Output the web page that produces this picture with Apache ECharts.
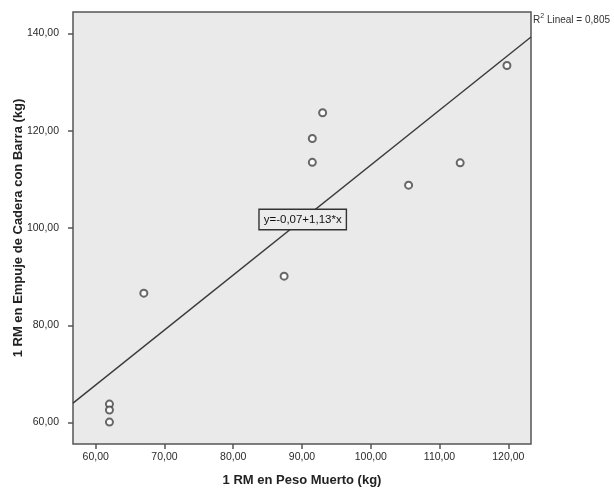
<!DOCTYPE html>
<html>
<head>
<meta charset="utf-8">
<script src="https://cdn.jsdelivr.net/npm/echarts@6/dist/echarts.min.js"></script>
<style>html,body{margin:0;padding:0;background:#fff}#c{width:614px;height:491px}</style>
</head>
<body>
<div id="c"></div>
<script>
// Data
var pesoMuerto = [62, 62, 62, 67, 87.4, 91.5, 91.5, 93, 105.5, 113, 119.8];
var empujeCadera = [63.8, 62.6, 60.1, 86.6, 90.1, 113.5, 118.4, 123.7, 108.8, 113.4, 133.4];
var xTicks = [60, 70, 80, 90, 100, 110, 120];
var yTicks = [60, 80, 100, 120, 140];
var intercept = -0.07;
var slope = 1.13;
var r2 = "0,805";
var eqLabel = "y=-0,07+1,13*x";
var eqAnchor = [90.1, 101.75];
var xTitle = "1 RM en Peso Muerto (kg)";
var yTitle = "1 RM en Empuje de Cadera con Barra (kg)";

var xMin = 56.7, xMax = 123.3, yMin = 55.6, yMax = 144.4;

function fmt(v) { return v.toFixed(2).replace('.', ','); }

var points = pesoMuerto.map(function (x, i) { return [x, empujeCadera[i]]; });
var fitLine = [[xMin, intercept + slope * xMin], [xMax, intercept + slope * xMax]];

var font = "'Liberation Sans', Arial, sans-serif";
var chart = echarts.init(document.getElementById('c'), null, { renderer: 'canvas' });
chart.setOption({
  animation: false,
  backgroundColor: '#ffffff',
  grid: {
    left: 73, right: 83, top: 12, bottom: 47,
    outerBoundsMode: 'none', containLabel: false,
    show: true, backgroundColor: '#eaeaea', borderColor: '#555555', borderWidth: 1.5
  },
  xAxis: {
    type: 'value', min: xMin, max: xMax,
    name: xTitle, nameLocation: 'middle', nameGap: 30,
    nameTextStyle: { fontFamily: font, fontWeight: 'bold', fontSize: 13, color: '#222' },
    axisLine: { show: false },
    splitLine: { show: false },
    axisTick: { show: true, inside: false, length: 5, customValues: xTicks, lineStyle: { color: '#555', width: 1.5 } },
    axisLabel: { customValues: xTicks, formatter: fmt, margin: 8, fontFamily: font, fontSize: 10.5, color: '#2a2a2a' }
  },
  yAxis: {
    type: 'value', min: yMin, max: yMax,
    name: yTitle, nameLocation: 'middle', nameGap: 48, nameRotate: 90, nameMoveOverlap: false,
    nameTextStyle: { fontFamily: font, fontWeight: 'bold', fontSize: 13, color: '#222' },
    axisLine: { show: false },
    splitLine: { show: false },
    axisTick: { show: true, inside: false, length: 5, customValues: yTicks, lineStyle: { color: '#555', width: 1.5 } },
    axisLabel: { customValues: yTicks, formatter: fmt, margin: 14, fontFamily: font, fontSize: 10.5, color: '#2a2a2a' }
  },
  series: [
    {
      type: 'line', data: fitLine, symbol: 'none', silent: true,
      lineStyle: { color: '#3a3a3a', width: 1.4 }, z: 2
    },
    {
      type: 'scatter', data: points, symbol: 'emptyCircle', symbolSize: 7,
      itemStyle: { color: '#444444', borderColor: '#444444', borderWidth: 1.3 }, z: 3
    },
    {
      type: 'scatter', data: [eqAnchor], symbol: 'rect', symbolSize: 0,
      itemStyle: { color: '#222' }, z: 4, silent: true,
      label: {
        show: true, position: 'inside', formatter: eqLabel, opacity: 1,
        fontFamily: font, fontSize: 11.5, color: '#111',
        backgroundColor: '#ececec', borderColor: '#333', borderWidth: 1.4,
        padding: [4, 4, 3, 4]
      },
      labelLayout: { hideOverlap: false }
    }
  ],
  graphic: [
    {
      type: 'text', left: 533, top: 13,
      style: {
        text: '{r|R}{s|2}{r| Lineal = ' + r2 + '}',
        rich: {
          r: { fontFamily: font, fontSize: 10, fill: '#333', verticalAlign: 'bottom' },
          s: { fontFamily: font, fontSize: 7, fill: '#333', verticalAlign: 'top', padding: [0, 0, 5, 0] }
        }
      }
    }
  ]
});
</script>
</body>
</html>
